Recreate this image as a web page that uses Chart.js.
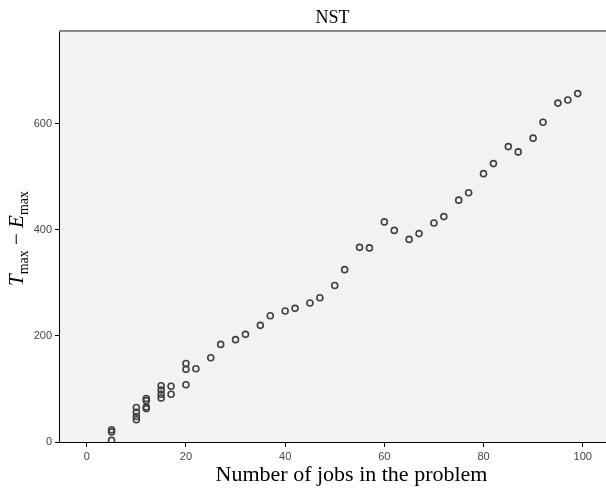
<!DOCTYPE html>
<html>
<head>
<meta charset="utf-8">
<script src="https://cdn.jsdelivr.net/npm/chart.js@4/dist/chart.umd.min.js"></script>
<style>
  html, body { margin: 0; padding: 0; background: #ffffff; }
  #wrap { width: 606px; height: 493px; }
</style>
</head>
<body>
<div id="wrap"><canvas id="chart" width="606" height="493"></canvas></div>
<script>
// Number of jobs in each problem instance
const jobs = [5, 5, 5, 10, 10, 10, 10, 12, 12, 12, 12, 15, 15, 15, 15, 17, 17,
  20, 20, 20, 22, 25, 27, 30, 32, 35, 37, 40, 42, 45, 47, 50, 52, 55, 57,
  60, 62, 65, 67, 70, 72, 75, 77, 80, 82, 85, 87, 90, 92, 95, 97, 99];
// Tmax - Emax observed for each instance (NST)
const gap = [23, 19, 3, 65, 56, 48, 42, 82, 78, 66, 63, 106, 98, 90, 83, 105, 90,
  148, 137, 108, 138, 159, 184, 193, 203, 220, 238, 247, 252, 262, 272, 295, 325, 367, 366,
  415, 399, 382, 393, 413, 425, 456, 470, 506, 525, 557, 547, 573, 603, 639, 645, 657];

const xTicks = [0, 20, 40, 60, 80, 100];
const yTicks = [0, 200, 400, 600];
const chartTitle = 'NST';
const xTitle = 'Number of jobs in the problem';

const points = jobs.map((j, i) => ({ x: j, y: gap[i] }));

// plot background, top frame line and the serif titles
const framePlugin = {
  id: 'frame',
  beforeDraw(chart) {
    const { ctx, chartArea: a } = chart;
    ctx.save();
    ctx.fillStyle = '#ffffff';
    ctx.fillRect(0, 0, chart.width, chart.height);
    ctx.fillStyle = '#f2f2f2';
    ctx.fillRect(a.left, a.top, a.right - a.left, a.bottom - a.top);
    ctx.restore();
  },
  afterDraw(chart) {
    const { ctx, chartArea: a } = chart;
    ctx.save();
    ctx.strokeStyle = '#8a8a8a';
    ctx.lineWidth = 2;
    ctx.beginPath();
    ctx.moveTo(a.left, a.top);
    ctx.lineTo(a.right, a.top);
    ctx.stroke();

    ctx.fillStyle = '#000000';
    ctx.textBaseline = 'alphabetic';
    ctx.textAlign = 'center';
    // chart title
    ctx.font = '18px "Liberation Serif", "Times New Roman", serif';
    ctx.fillText(chartTitle, (a.left + a.right) / 2, a.top - 8);
    // x axis title
    ctx.font = '22px "Liberation Serif", "Times New Roman", serif';
    ctx.fillText(xTitle, (a.left + a.right) / 2 + 19, a.bottom + 39);

    // y axis title: T_max − E_max, rotated
    const big = '21px "Liberation Serif", "Times New Roman", serif';
    const bigIt = 'italic 21px "Liberation Serif", "Times New Roman", serif';
    const sub = '14px "Liberation Serif", "Times New Roman", serif';
    const parts = [
      { t: 'T', f: bigIt, dy: 0 },
      { t: 'max', f: sub, dy: 5 },
      { t: ' \u2212 ', f: big, dy: 0 },
      { t: 'E', f: bigIt, dy: 0 },
      { t: 'max', f: sub, dy: 5 }
    ];
    ctx.textAlign = 'left';
    let total = 0;
    parts.forEach(p => { ctx.font = p.f; p.w = ctx.measureText(p.t).width; total += p.w; });
    ctx.translate(23, (a.top + a.bottom) / 2 + 2);
    ctx.rotate(-Math.PI / 2);
    let x = -total / 2;
    parts.forEach(p => {
      ctx.font = p.f;
      ctx.fillText(p.t, x, p.dy);
      x += p.w;
    });
    ctx.restore();
  }
};

const tickFont = { family: '"Liberation Sans", Arial, sans-serif', size: 11 };

new Chart(document.getElementById('chart'), {
  type: 'scatter',
  data: {
    datasets: [{
      data: points,
      pointStyle: 'circle',
      pointRadius: 3,
      pointBorderWidth: 1.6,
      borderColor: '#404040',
      backgroundColor: 'rgba(0,0,0,0)',
      pointHoverRadius: 3,
      clip: 0
    }]
  },
  options: {
    responsive: false,
    animation: false,
    events: [],
    layout: { autoPadding: false, padding: { top: 31, left: 0, right: 0, bottom: 0 } },
    plugins: { legend: { display: false }, tooltip: { enabled: false }, title: { display: false } },
    scales: {
      x: {
        type: 'linear',
        min: -5.6,
        max: 104.7,
        afterBuildTicks: s => { s.ticks = xTicks.map(v => ({ value: v })); },
        afterFit: s => { s.height = 51; s.paddingLeft = 0; s.paddingRight = 0; },
        grid: { drawOnChartArea: false, drawTicks: true, tickLength: 5, color: '#000000', tickWidth: 1 },
        border: { display: true, color: '#000000', width: 1 },
        ticks: { font: tickFont, color: '#444444', padding: 3, maxRotation: 0 }
      },
      y: {
        type: 'linear',
        min: 0,
        max: 775,
        afterBuildTicks: s => { s.ticks = yTicks.map(v => ({ value: v })); },
        afterFit: s => { s.width = 59; s.paddingTop = 0; s.paddingBottom = 0; },
        grid: { drawOnChartArea: false, drawTicks: true, tickLength: 4, color: '#000000', tickWidth: 1 },
        border: { display: true, color: '#000000', width: 1 },
        ticks: { font: tickFont, color: '#444444', padding: 3 }
      }
    }
  },
  plugins: [framePlugin]
});
</script>
</body>
</html>
